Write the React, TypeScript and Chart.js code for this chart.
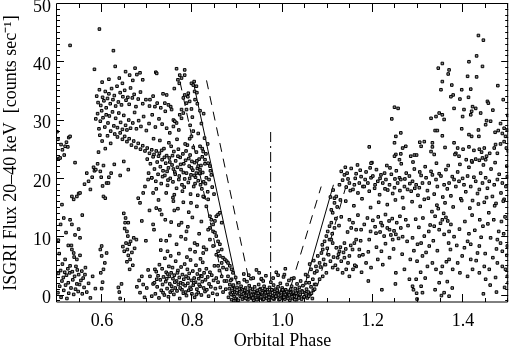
import React, { useEffect, useRef } from 'react';
import { Chart, registerables } from 'chart.js';

Chart.register(...registerables);

type Pt = [number, number];

// ---- axes ----
const xRange: Pt = [0.5, 1.5];
const yRange: Pt = [-1.1, 50];
const xTickValues = [0.6, 0.8, 1.0, 1.2, 1.4];
const yTickValues = [0, 10, 20, 30, 40, 50];
const xTitle = 'Orbital Phase';
const yTitle = 'ISGRI Flux 20\u201340 keV  [counts sec\u207B\u00B9]';

// ---- ISGRI light-curve points (phase, flux) ----
const leftEdgeLow: Pt[] = [
  [0.502,0.5],[0.503,3.8],[0.505,7.2],[0.506,1.6],[0.508,4.3],[0.509,-0.3],[0.511,2.5],[0.512,5.4],[0.514,3.1],[0.515,0.9],
  [0.517,4.0],[0.518,6.2],[0.519,1.8],[0.521,3.5],[0.522,-0.5],[0.524,4.6],[0.525,2.2],[0.526,0.4],[0.528,3.9],[0.529,5.1],
  [0.531,1.3],[0.532,8.6],[0.534,4.1],[0.535,2.7],[0.537,0.2],[0.538,6.6],[0.539,3.3],[0.541,1.1],[0.542,5.0],[0.544,2.0],
  [0.545,4.4],[0.547,0.7],[0.548,3.6],[0.550,1.9],[0.551,6.9],[0.553,2.6],[0.555,4.2],[0.556,0.3],[0.558,3.0],[0.560,1.4],
  [0.563,4.8],[0.566,0.6],[0.570,2.1],[0.574,-0.4],[0.579,3.3],[0.533,7.9],[0.537,7.3],[0.544,6.2],[0.562,3.6],[0.585,1.2],
  [0.596,7.9],[0.599,6.8],[0.603,4.5],[0.597,3.9],[0.601,2.3],[0.599,1.2],[0.606,5.6],[0.610,7.3],[0.599,8.5],
];
const leftEdgeMid: Pt[] = [
  [0.503,9.5],[0.508,12.2],[0.511,15.6],[0.515,13.3],[0.520,10.8],[0.525,8.6],[0.529,13.0],[0.533,12.2],[0.533,17.0],[0.537,16.5],
  [0.540,10.4],[0.544,17.0],[0.548,11.4],[0.548,17.5],[0.551,9.9],[0.551,17.6],[0.556,13.8],[0.561,19.1],[0.570,19.6],[0.574,18.2],
  [0.578,20.3],[0.566,21.0],[0.583,21.4],[0.603,17.0],[0.607,16.7],[0.610,19.3],[0.614,19.3],[0.598,20.3],[0.601,18.8],
];
const leftEdgeHigh: Pt[] = [
  [0.500,28.1],[0.502,26.8],[0.504,23.5],[0.507,23.6],[0.509,25.9],[0.512,25.0],[0.516,24.1],[0.518,25.6],[0.521,26.3],[0.524,25.5],
  [0.526,27.1],[0.529,27.3],[0.529,42.9],[0.540,22.8],[0.594,45.7],[0.625,42.0],
];
const earlyLow: Pt[] = [
  [0.638,0.6],[0.640,-0.5],[0.643,2.0],[0.636,1.4],[0.648,14.1],[0.652,13.3],[0.650,11.5],[0.655,11.0],[0.653,9.0],[0.646,8.4],
  [0.649,7.6],[0.656,7.9],[0.660,8.8],[0.663,9.3],[0.658,6.9],[0.662,6.2],[0.666,7.4],[0.670,9.9],[0.668,5.2],[0.661,4.5],
  [0.655,5.8],[0.672,8.1],[0.676,9.6],[0.651,12.5],[0.657,10.2],[0.658,12.5],[0.684,15.9],[0.680,16.7],[0.715,11.3],[0.713,12.2],
  [0.677,1.5],[0.682,2.6],[0.684,0.5],[0.688,3.3],[0.691,1.9],[0.694,-0.3],[0.699,1.3],[0.702,4.4],[0.706,3.3],[0.710,-0.1],
  [0.713,2.0],[0.717,4.5],[0.721,2.8],[0.688,12.8],[0.697,9.4],[0.705,14.6],
];
const earlyHigh: Pt[] = [
  [0.583,38.8],[0.629,39.3],[0.673,39.0],[0.677,37.9],[0.719,38.3],[0.600,36.6],[0.615,37.1],[0.638,37.3],[0.645,36.4],[0.661,37.8],
  [0.668,36.9],[0.690,37.0],[0.652,38.4],[0.684,38.2],
  [0.588,34.2],[0.591,33.1],[0.594,35.3],[0.597,32.6],[0.601,34.0],[0.604,33.4],[0.607,35.0],[0.609,32.2],[0.612,33.8],[0.615,34.6],
  [0.618,32.9],[0.621,35.5],[0.624,33.6],[0.627,34.3],[0.630,32.5],[0.633,35.9],[0.636,33.2],[0.640,34.8],[0.643,32.7],[0.646,34.1],
  [0.650,35.2],[0.653,33.5],[0.657,34.0],[0.660,32.8],[0.663,35.6],[0.667,33.9],[0.671,34.5],[0.675,32.4],[0.680,33.7],[0.685,34.9],
  [0.690,32.9],[0.697,33.6],[0.705,32.5],[0.713,34.2],[0.722,33.0],[0.730,32.2],
  [0.586,30.3],[0.590,31.2],[0.593,28.6],[0.596,29.9],[0.599,31.7],[0.602,30.5],[0.606,28.9],[0.609,31.0],[0.613,29.6],[0.616,30.8],
  [0.619,28.2],[0.623,31.5],[0.626,29.1],[0.630,30.4],[0.634,28.8],[0.637,31.3],[0.641,29.7],[0.645,28.5],[0.648,30.9],[0.652,29.2],
  [0.655,28.4],[0.659,30.1],[0.663,28.7],[0.668,29.6],[0.672,31.4],[0.676,28.6],[0.681,30.0],[0.686,29.0],[0.692,30.7],[0.698,28.3],
  [0.704,29.5],[0.711,31.0],[0.718,28.9],[0.726,30.3],[0.733,29.4],[0.740,31.6],
  [0.628,27.7],[0.634,27.2],[0.640,27.9],[0.645,26.8],[0.650,27.3],[0.655,26.4],[0.660,26.9],[0.665,25.8],[0.670,26.5],[0.675,25.4],
  [0.680,26.1],[0.685,25.1],[0.690,25.7],[0.695,24.8],[0.700,25.3],[0.705,24.4],[0.710,25.0],[0.715,24.2],[0.720,24.8],[0.725,23.9],
  [0.600,26.5],[0.607,25.2],[0.592,24.6],[0.612,27.4],[0.619,26.1],[0.595,27.5],
  [0.581,22.0],[0.586,21.6],[0.590,22.6],[0.596,21.3],[0.603,22.3],[0.615,20.3],[0.620,21.0],[0.627,22.5],[0.640,20.6],[0.648,23.0],
  [0.658,21.6],[0.695,18.7],[0.691,17.6],[0.702,19.9],[0.710,20.2],[0.713,17.6],
];
const peakMid: Pt[] = [
  [0.700,23.4],[0.703,21.0],[0.707,22.6],[0.710,20.2],[0.713,23.8],[0.716,21.7],[0.719,19.6],[0.722,22.9],[0.724,20.8],[0.727,24.4],
  [0.729,22.1],[0.731,19.2],[0.733,23.3],[0.735,21.4],[0.737,25.2],[0.739,20.6],[0.741,22.7],[0.743,24.0],[0.745,18.9],[0.747,21.9],
  [0.749,23.6],[0.751,20.1],[0.753,25.6],[0.755,22.4],[0.757,19.5],[0.759,24.7],[0.761,21.2],[0.763,23.1],[0.765,18.4],[0.767,22.0],
  [0.769,25.1],[0.771,20.5],[0.773,23.7],[0.775,21.6],[0.777,19.0],[0.779,24.3],[0.781,22.6],[0.783,20.0],[0.785,23.2],[0.787,21.0],
  [0.789,25.8],[0.791,19.4],[0.793,22.2],[0.795,24.1],[0.797,20.7],[0.799,23.0],[0.801,21.5],[0.803,18.7],[0.805,22.8],[0.807,20.3],
  [0.809,24.6],[0.811,21.8],[0.813,19.7],[0.815,23.4],[0.817,20.9],[0.819,22.3],[0.821,18.3],[0.823,21.1],[0.825,19.5],[0.828,22.6],
  [0.831,20.2],[0.834,17.8],[0.837,19.9],[0.840,21.4],
  [0.732,24.9],[0.738,23.7],[0.744,21.3],[0.750,22.9],[0.756,24.0],[0.762,20.8],[0.768,23.9],[0.774,22.5],[0.780,21.1],[0.786,24.8],
  [0.792,23.5],[0.798,21.9],[0.804,20.6],[0.810,23.1],[0.816,21.0],[0.822,23.8],[0.734,20.4],[0.746,19.8],[0.758,21.7],[0.770,19.9],
  [0.782,18.6],[0.794,20.1],[0.806,19.2],[0.818,19.0],[0.728,26.6],[0.748,26.2],[0.766,26.8],[0.784,26.0],[0.802,25.4],[0.714,26.9],
  [0.720,18.3],[0.742,17.6],[0.760,17.3],[0.778,17.9],[0.796,17.4],[0.812,17.2],[0.826,16.9],
];
const peakHigh: Pt[] = [
  [0.743,28.7],[0.758,29.0],[0.765,29.6],[0.758,30.1],[0.772,31.0],[0.776,31.9],[0.787,31.9],[0.787,33.0],[0.780,33.9],[0.790,34.1],
  [0.805,35.0],[0.810,34.8],[0.809,35.9],[0.804,36.7],[0.768,37.0],[0.776,37.3],[0.772,37.8],[0.783,37.8],[0.765,38.9],[0.783,38.7],
  [0.750,27.9],[0.770,28.4],[0.795,29.2],[0.800,30.6],[0.813,27.8],[0.820,29.5],[0.817,31.7],[0.752,32.4],[0.735,34.6],[0.760,35.5],
  [0.794,26.9],[0.827,27.0],[0.825,31.2],[0.822,25.2],[0.830,24.3],[0.834,26.0],[0.811,32.9],[0.798,32.0],
  [0.798,36.4],[0.802,36.1],[0.806,33.6],[0.791,34.7],[0.783,34.4],[0.794,33.3],[0.780,31.3],[0.776,30.4],[0.761,29.9],[0.739,33.0],
  [0.747,32.7],[0.754,31.9],[0.743,34.4],[0.706,33.6],[0.717,32.4],[0.721,38.1],[0.802,28.2],[0.798,27.3],[0.771,36.4],
];
const peakLow: Pt[] = [
  [0.716,2.2],[0.718,0.3],[0.720,4.1],[0.722,1.5],[0.724,3.4],[0.726,-0.4],[0.727,5.3],[0.729,2.7],[0.731,0.9],[0.733,4.6],
  [0.734,1.9],[0.736,3.2],[0.738,0.1],[0.739,6.4],[0.741,2.4],[0.742,4.0],[0.744,1.2],[0.745,3.7],[0.747,-0.2],[0.748,5.0],
  [0.750,2.0],[0.751,0.6],[0.753,3.9],[0.754,1.6],[0.756,4.8],[0.757,2.9],[0.759,0.2],[0.760,3.5],[0.762,1.3],[0.763,5.9],
  [0.765,2.5],[0.766,0.8],[0.768,4.3],[0.769,1.9],[0.771,3.1],[0.772,-0.5],[0.774,2.2],[0.775,4.9],[0.777,1.0],[0.778,3.6],
  [0.780,0.4],[0.781,2.8],[0.783,5.4],[0.784,1.7],[0.786,3.3],[0.787,0.0],[0.789,4.5],[0.790,2.1],[0.792,0.9],[0.793,3.8],
  [0.795,1.4],[0.796,6.1],[0.798,2.6],[0.799,0.3],[0.801,4.2],[0.802,1.8],[0.804,3.0],[0.805,-0.3],[0.807,2.3],[0.808,5.2],
  [0.810,1.1],[0.811,3.7],[0.813,0.5],[0.814,2.9],[0.816,4.4],[0.817,1.6],[0.819,3.4],[0.820,0.1],[0.822,2.4],[0.823,5.7],
  [0.825,1.3],[0.826,3.9],[0.828,0.7],[0.829,2.7],[0.831,4.6],[0.832,1.0],[0.834,3.2],[0.836,-0.1],[0.837,2.0],[0.839,4.0],
  [0.841,1.5],[0.843,3.5],[0.845,0.4],[0.847,2.6],[0.849,5.1],[0.851,1.2],[0.853,3.0],[0.855,0.2],[0.857,2.3],[0.860,4.3],
  [0.862,1.4],[0.865,3.3],[0.868,0.6],[0.871,2.5],[0.874,1.1],
  [0.735,0.5],[0.743,2.9],[0.749,3.3],[0.755,0.9],[0.761,2.3],[0.767,3.9],[0.773,1.3],[0.779,2.0],[0.785,0.6],[0.791,3.0],
  [0.797,1.1],[0.803,2.2],[0.809,0.2],[0.815,1.9],[0.821,3.3],[0.752,6.8],[0.770,7.2],[0.788,6.6],[0.806,7.5],[0.730,7.8],[0.818,6.3],
];
const peakMidSparse: Pt[] = [
  [0.720,15.0],[0.728,14.7],[0.732,13.9],[0.730,9.5],[0.740,13.0],[0.750,10.3],[0.758,16.2],[0.760,14.6],[0.765,8.8],[0.770,12.1],
  [0.776,12.5],[0.780,16.0],[0.785,9.7],[0.787,11.0],[0.790,11.8],[0.800,13.4],[0.805,9.0],[0.810,15.3],[0.815,10.6],[0.820,12.7],
  [0.825,8.3],[0.745,7.6],[0.795,7.9],[0.725,16.4],[0.757,16.8],[0.775,10.1],[0.797,15.9],[0.742,9.4],[0.811,8.7],[0.753,12.6],
  [0.768,14.9],[0.792,14.3],
];
const ingress: Pt[] = [
  [0.817,25.6],[0.824,24.7],[0.828,23.3],[0.813,22.2],[0.817,21.6],[0.809,21.0],[0.835,22.7],[0.839,22.2],[0.842,20.7],
  [0.824,17.0],[0.831,15.3],[0.835,16.5],[0.839,13.6],[0.842,13.0],[0.846,12.2],[0.850,12.8],[0.839,11.6],[0.835,11.3],[0.846,11.0],
  [0.853,13.6],[0.857,13.9],[0.861,14.2],[0.865,12.5],[0.850,10.8],[0.853,10.2],[0.857,9.3],[0.861,8.8],[0.865,7.9],[0.857,7.6],
  [0.853,7.0],[0.861,6.8],[0.868,6.5],[0.872,6.2],[0.876,5.9],[0.879,5.6],[0.865,5.6],[0.857,5.1],[0.868,4.8],[0.876,4.5],
  [0.883,5.1],[0.887,4.5],[0.890,3.9],[0.879,3.3],[0.887,2.8],[0.876,2.5],[0.883,1.9],[0.890,1.6],[0.894,1.1],[0.839,9.6],
  [0.846,8.5],[0.831,7.9],[0.824,7.3],[0.848,17.4],[0.844,18.6],[0.829,19.2],
];
const eclipse: Pt[] = [
  [0.880,-0.3],[0.882,1.2],[0.884,0.4],[0.885,2.6],[0.887,-0.7],[0.888,0.9],[0.890,0.1],[0.891,1.8],[0.893,-0.2],[0.894,0.6],
  [0.896,3.1],[0.897,-0.5],[0.899,1.4],[0.900,0.3],[0.902,-0.8],[0.903,2.2],[0.905,0.8],[0.906,-0.1],[0.908,1.6],[0.909,0.2],
  [0.911,-0.6],[0.912,1.0],[0.914,3.7],[0.915,0.5],[0.917,-0.4],[0.918,1.3],[0.920,0.0],[0.921,2.4],[0.923,-0.7],[0.924,0.7],
  [0.926,1.7],[0.927,-0.2],[0.929,0.4],[0.930,2.9],[0.932,-0.5],[0.933,1.1],[0.935,0.2],[0.936,-0.8],[0.938,1.5],[0.939,0.6],
  [0.941,-0.3],[0.942,4.4],[0.944,0.9],[0.945,-0.6],[0.947,1.9],[0.948,0.1],[0.950,-0.4],[0.951,1.2],[0.953,2.8],[0.954,0.3],
  [0.956,-0.7],[0.957,0.8],[0.959,1.6],[0.960,-0.1],[0.962,0.5],[0.963,3.4],[0.965,-0.5],[0.966,1.0],[0.968,0.2],[0.969,-0.8],
  [0.971,1.4],[0.972,0.6],[0.974,2.3],[0.975,-0.3],[0.977,0.9],[0.978,0.0],[0.980,1.8],[0.981,-0.6],[0.983,0.4],[0.984,1.1],
  [0.986,4.0],[0.987,-0.2],[0.989,0.7],[0.990,1.5],[0.992,-0.7],[0.993,0.3],[0.995,2.1],[0.996,-0.4],[0.998,0.8],[0.999,1.3],
  [1.001,-0.1],[1.002,3.2],[1.004,0.5],[1.005,-0.6],[1.007,1.0],[1.008,0.1],[1.010,1.9],[1.011,-0.3],[1.013,0.6],[1.014,2.6],
  [1.016,-0.8],[1.017,0.9],[1.019,0.2],[1.020,1.6],[1.022,-0.5],[1.023,0.4],[1.025,3.0],[1.026,-0.1],[1.028,1.2],[1.029,0.3],
  [1.031,-0.7],[1.032,2.0],[1.034,0.7],[1.035,-0.2],[1.037,1.4],[1.038,0.0],[1.040,2.5],[1.042,-0.6],[1.043,0.8],[1.045,1.7],
  [1.047,-0.3],[1.049,0.5],[1.051,3.6],[1.053,1.1],[1.055,-0.4],[1.057,0.6],[1.059,2.2],[1.061,0.2],[1.063,1.5],[1.066,-0.5],
  [1.068,0.9],[1.071,1.9],
  [0.886,0.2],[0.892,-0.9],[0.898,0.5],[0.904,1.1],[0.910,-0.2],[0.913,0.3],[0.916,0.9],[0.919,-0.5],[0.922,0.6],[0.925,-0.1],
  [0.928,1.2],[0.931,0.1],[0.934,-0.4],[0.937,0.7],[0.940,0.0],[0.943,-0.7],[0.946,0.4],[0.949,1.0],[0.952,-0.2],[0.955,0.5],
  [0.958,-0.6],[0.961,1.1],[0.964,0.0],[0.967,0.6],[0.970,-0.3],[0.973,0.2],[0.976,1.0],[0.979,-0.5],[0.982,0.3],[0.985,-0.1],
  [0.988,0.9],[0.991,0.1],[0.994,-0.6],[0.997,0.5],[1.000,1.0],[1.003,-0.3],[1.006,0.2],[1.009,0.7],[1.012,-0.5],[1.015,0.1],
  [1.018,1.1],[1.021,-0.2],[1.024,0.6],[1.027,-0.7],[1.030,0.4],[1.033,0.9],[1.036,-0.4],[1.039,0.2],[1.044,0.6],[1.048,-0.2],
  [1.052,0.3],[1.058,-0.1],[1.064,0.4],
  [0.935,3.0],[0.948,3.9],[0.957,2.5],[0.990,3.5],[1.006,4.6],[0.915,2.7],[0.925,3.5],[0.979,3.0],[1.020,2.9],[0.953,2.9],[1.004,3.6],
];
const egress: Pt[] = [
  [1.052,2.2],[1.056,3.3],[1.063,4.5],[1.071,3.9],[1.074,5.0],[1.067,2.8],[1.082,5.6],[1.078,6.8],[1.086,7.3],[1.089,7.9],
  [1.093,9.3],[1.097,10.2],[1.100,11.0],[1.104,11.9],[1.108,12.5],[1.111,14.2],[1.115,15.9],[1.108,14.7],[1.115,16.7],[1.119,17.0],
  [1.104,9.6],[1.111,9.0],[1.119,8.2],[1.126,7.6],[1.122,6.5],[1.130,5.9],[1.137,6.5],[1.145,5.6],[1.148,6.8],[1.141,4.5],
  [1.133,3.9],[1.148,3.3],[1.156,4.5],[1.163,5.0],[1.122,4.5],[1.111,4.8],[1.097,3.9],[1.089,3.3],[1.082,2.8],[1.074,1.9],
  [1.071,1.1],[1.152,11.6],[1.156,12.5],[1.159,9.0],[1.163,9.6],[1.170,7.9],[1.174,11.3],
  [1.069,6.0],[1.076,4.2],[1.084,4.9],[1.091,6.2],[1.095,5.3],[1.102,7.0],[1.106,5.9],[1.113,6.6],[1.117,5.2],[1.124,7.1],
  [1.128,8.3],[1.135,7.4],[1.140,8.0],[1.060,5.4],[1.088,8.7],[1.099,8.1],[1.110,10.6],[1.118,13.2],[1.125,12.0],[1.121,15.2],
  [1.128,16.4],[1.112,18.1],[1.106,16.9],
];
const lateBand: Pt[] = [
  [1.126,19.0],[1.130,21.3],[1.137,20.7],[1.141,18.6],[1.145,20.0],[1.148,19.3],[1.152,21.8],[1.156,18.2],[1.159,19.0],[1.163,20.9],
  [1.167,17.6],[1.170,19.3],[1.174,20.4],[1.178,18.7],[1.181,18.7],[1.185,21.2],[1.189,19.3],[1.192,17.9],[1.196,20.2],[1.200,20.5],
  [1.204,18.4],[1.208,21.6],[1.211,19.6],[1.215,17.3],[1.218,20.7],[1.222,19.3],[1.226,21.0],[1.229,19.9],[1.233,18.1],[1.237,19.0],
  [1.241,20.8],[1.244,17.5],[1.248,18.5],[1.252,21.4],[1.255,19.3],[1.259,20.2],[1.262,19.9],[1.266,16.8],[1.270,18.7],[1.274,21.0],
  [1.277,18.2],[1.281,20.5],[1.285,17.9],[1.288,19.6],[1.292,21.7],[1.296,19.0],[1.300,17.2],[1.303,18.5],[1.307,20.6],[1.310,19.3],
  [1.314,16.5],[1.318,20.2],[1.321,18.0],[1.325,19.3],[1.329,21.3],[1.332,20.7],[1.336,17.4],[1.340,19.9],[1.343,18.7],[1.347,20.9],
  [1.351,20.5],[1.355,16.9],[1.358,19.0],[1.362,21.6],[1.365,18.3],[1.369,19.3],[1.373,17.1],[1.376,20.4],[1.380,19.9],[1.384,18.7],
  [1.388,21.2],[1.391,19.6],[1.395,16.6],[1.399,20.1],[1.402,19.0],[1.406,17.8],[1.410,20.5],[1.413,22.0],[1.417,18.7],[1.421,16.3],
  [1.424,20.3],[1.428,19.6],[1.432,17.5],[1.436,18.2],[1.439,21.0],[1.443,19.3],[1.447,16.0],[1.450,20.2],[1.454,18.4],[1.458,19.6],
  [1.462,21.7],[1.465,17.0],[1.469,19.0],[1.473,15.8],[1.476,19.9],[1.480,20.8],[1.484,17.6],[1.487,19.3],[1.491,16.5],[1.495,18.7],
  [1.498,20.4],
  [1.133,19.8],[1.143,21.0],[1.150,18.0],[1.161,20.1],[1.172,21.5],[1.183,19.9],[1.194,21.9],[1.205,19.0],[1.216,20.1],[1.227,18.3],
  [1.238,21.9],[1.249,20.0],[1.260,18.0],[1.271,20.0],[1.282,19.2],[1.293,18.4],[1.304,21.2],[1.139,22.0],[1.166,22.4],[1.198,22.8],
  [1.231,22.3],[1.263,22.6],[1.289,22.9],[1.316,22.1],[1.341,22.7],[1.367,22.3],[1.393,22.5],[1.420,22.9],[1.445,22.4],[1.471,22.8],
  [1.497,22.2],
  [1.140,16.2],[1.158,15.4],[1.176,16.6],[1.195,15.1],[1.213,16.0],[1.232,15.6],[1.250,16.4],[1.268,15.0],[1.287,16.1],[1.305,15.3],
  [1.323,16.7],[1.342,15.5],[1.360,15.9],[1.378,15.2],[1.397,16.3],[1.415,15.0],[1.434,15.7],[1.452,16.8],[1.470,15.4],[1.489,16.2],
];
const lateMid: Pt[] = [
  [1.115,11.6],[1.108,9.6],[1.148,13.0],[1.163,11.3],[1.181,12.2],[1.192,9.6],[1.207,10.7],[1.218,12.5],[1.225,10.2],[1.237,11.3],
  [1.244,9.6],[1.251,10.5],[1.262,11.6],[1.273,13.0],[1.288,9.9],[1.299,8.8],[1.307,9.0],[1.314,10.2],[1.325,8.5],[1.336,11.9],
  [1.347,11.3],[1.354,13.0],[1.366,12.8],[1.373,12.2],[1.369,11.0],[1.410,9.3],[1.417,8.8],[1.436,8.5],[1.432,7.3],[1.476,9.6],
  [1.483,9.0],[1.487,7.6],[1.498,8.5],
  [1.155,7.9],[1.170,6.8],[1.185,5.6],[1.196,4.8],[1.211,6.2],[1.222,5.3],[1.237,6.5],[1.251,3.9],[1.270,4.5],[1.281,2.8],
  [1.288,1.6],[1.296,2.8],[1.310,6.8],[1.321,5.0],[1.332,5.6],[1.340,4.5],[1.351,3.9],[1.354,5.0],[1.369,6.2],[1.377,4.5],
  [1.388,5.6],[1.410,3.3],[1.417,6.2],[1.436,3.9],[1.447,5.0],[1.450,2.8],[1.458,4.5],[1.472,3.1],[1.476,5.6],[1.487,5.0],
  [1.494,4.5],[1.498,3.3],
  [1.200,12.9],[1.205,11.8],[1.212,13.5],[1.216,10.9],[1.221,12.0],[1.228,13.9],[1.232,11.6],[1.236,12.8],[1.240,10.4],[1.243,13.2],
  [1.247,11.1],[1.253,12.5],[1.257,9.8],[1.260,13.6],[1.228,8.9],[1.219,7.6],[1.246,8.0],[1.265,7.1],[1.276,9.3],[1.283,6.2],
  [1.291,7.7],[1.298,5.9],[1.302,11.7],[1.311,13.3],[1.318,7.4],[1.327,12.1],[1.331,14.4],[1.338,13.6],[1.345,14.9],[1.350,12.4],
  [1.357,14.1],[1.362,13.4],[1.368,9.0],[1.372,7.9],[1.380,10.1],[1.386,8.6],[1.392,11.4],[1.398,6.8],[1.404,12.7],[1.413,10.6],
  [1.420,13.8],[1.426,11.2],[1.440,10.0],[1.444,11.9],[1.449,7.2],[1.455,12.3],[1.461,9.9],[1.466,6.5],[1.479,11.0],[1.485,12.7],
  [1.490,10.6],[1.493,13.5],[1.497,6.9],[1.130,13.5],[1.137,9.0],[1.144,10.9],[1.151,8.6],[1.167,13.8],[1.173,9.4],[1.178,7.0],
  [1.188,13.3],[1.195,11.0],[1.160,5.2],[1.175,4.0],[1.190,7.5],[1.208,8.3],[1.266,10.1],[1.278,12.0],[1.295,13.1],[1.306,4.0],
  [1.316,3.0],[1.324,11.0],[1.334,9.4],[1.343,7.7],[1.358,10.5],[1.363,5.8],[1.393,3.9],[1.403,8.2],[1.421,4.5],[1.429,6.0],
  [1.437,13.0],[1.457,14.2],[1.468,13.0],[1.474,8.0],
];
const lateLow: Pt[] = [
  [1.297,0.4],[1.338,1.0],[1.347,2.2],[1.352,0.0],[1.365,2.4],[1.376,1.3],[1.298,-0.6],[1.290,1.0],[1.460,1.8],[1.474,0.6],
  [1.492,1.4],[1.500,2.2],[1.445,0.3],[1.190,2.5],[1.250,2.0],[1.220,1.0],[1.307,1.6],[1.310,0.5],[1.358,0.5],[1.369,-0.1],
];
const lateHigh: Pt[] = [
  [1.434,44.6],[1.445,43.8],[1.354,39.8],[1.345,39.0],[1.369,38.7],[1.367,38.0],[1.430,41.1],[1.413,40.1],[1.443,39.3],[1.410,37.6],
  [1.354,36.7],[1.375,36.1],[1.351,35.3],[1.430,37.5],[1.417,35.4],[1.397,35.3],[1.378,34.4],[1.373,34.1],[1.393,33.7],[1.412,34.0],
  [1.454,33.3],[1.456,33.0],[1.248,32.3],[1.256,32.1],[1.242,30.3],[1.380,32.1],[1.402,31.9],[1.421,32.4],[1.428,32.1],[1.419,31.6],
  [1.347,31.3],[1.354,31.0],[1.358,30.2],[1.329,30.4],[1.340,30.7],[1.399,30.7],[1.417,31.0],[1.439,31.3],[1.452,30.0],[1.461,29.9],
  [1.483,29.5],[1.491,28.7],[1.450,29.3],[1.262,27.9],[1.251,27.3],[1.248,26.2],[1.338,28.3],[1.343,28.3],[1.354,27.4],[1.397,28.6],
  [1.413,27.6],[1.419,27.3],[1.434,28.4],[1.435,27.3],[1.471,28.0],[1.478,28.3],[1.487,27.8],[1.192,25.5],[1.304,26.3],[1.307,25.6],
  [1.314,26.4],[1.332,26.2],[1.332,25.5],[1.273,25.6],[1.251,24.2],[1.262,24.3],[1.266,25.3],[1.292,24.1],[1.297,24.1],[1.284,23.9],
  [1.336,24.2],[1.329,24.7],[1.360,25.4],[1.380,26.2],[1.388,25.3],[1.384,24.4],[1.391,23.9],[1.382,24.2],[1.400,25.1],[1.413,25.5],
  [1.424,24.9],[1.436,25.1],[1.441,24.6],[1.447,25.3],[1.452,23.9],[1.459,24.4],[1.469,25.3],[1.472,25.9],[1.476,24.4],[1.483,26.0],
  [1.491,26.4],[1.494,27.3],[1.496,25.3],[1.407,23.3],[1.419,23.1],[1.428,23.4],[1.436,23.2],[1.443,23.6],[1.450,23.3],[1.248,23.9],
  [1.259,23.3],[1.196,22.7],[1.466,31.8],[1.489,33.6],[1.499,30.9],[1.477,36.0],[1.500,24.8],[1.498,28.4],
];

// ---- eclipse model lines ----
const ingressFit: Pt[] = [[0.8018, 36.7], [0.899, 1.8]];
const ingressEarly: Pt[] = [[0.7725, 36.7], [0.8696, 1.8]];
const ingressLate: Pt[] = [[0.8314, 36.9], [0.927, 2.1]];
const egressFit: Pt[] = [[1.0486, 1.6], [1.1127, 19.0]];
const egressEarly: Pt[] = [[1.0192, 1.8], [1.0855, 18.7]];
const egressLate: Pt[] = [[1.077, 1.6], [1.1414, 19.0]];
const eclipseCentre: Pt[] = [[0.9735, -1.1], [0.9735, 28.1]];

const allPoints: Pt[] = [
  ...leftEdgeLow, ...leftEdgeMid, ...leftEdgeHigh, ...earlyLow, ...earlyHigh,
  ...peakMid, ...peakHigh, ...peakLow, ...peakMidSparse, ...ingress, ...eclipse,
  ...egress, ...lateBand, ...lateMid, ...lateLow, ...lateHigh,
];

const SERIF = "'Liberation Serif', 'Times New Roman', Times, serif";

const frameTicks = {
  id: 'frameTicks',
  afterDatasetsDraw(chart: any) {
    const { ctx, chartArea, scales } = chart;
    const { left, right, top, bottom } = chartArea;
    const sx = scales.x;
    const sy = scales.y;
    ctx.save();
    ctx.strokeStyle = '#000';
    ctx.lineWidth = 1;
    ctx.setLineDash([]);
    ctx.beginPath();
    ctx.rect(left - 0.5, top - 0.5, right - left, bottom - top + 0.5);
    ctx.stroke();
    ctx.beginPath();
    for (let i = 0; i <= 20; i++) {
      const v = xRange[0] + i * 0.05;
      const major = xTickValues.some((t) => Math.abs(t - v) < 1e-6);
      const len = major ? 8 : 4;
      const px = Math.round(sx.getPixelForValue(v)) - 0.5;
      ctx.moveTo(px, bottom);
      ctx.lineTo(px, bottom - len);
      ctx.moveTo(px, top);
      ctx.lineTo(px, top + len);
    }
    for (let v = -1; v <= 50; v++) {
      const major = v % 10 === 0;
      const len = major ? 7 : 3;
      const py = Math.round(sy.getPixelForValue(v)) - 0.5;
      ctx.moveTo(left, py);
      ctx.lineTo(left + len, py);
      ctx.moveTo(right, py);
      ctx.lineTo(right - len, py);
    }
    ctx.stroke();
    ctx.restore();
  },
};

const toXY = (arr: Pt[]) => arr.map(([x, y]) => ({ x, y }));

const lineSet = (arr: Pt[], dash: number[]) => ({
  data: toXY(arr),
  showLine: true,
  borderColor: '#000',
  borderWidth: 1,
  borderDash: dash,
  pointRadius: 0,
  pointHoverRadius: 0,
  fill: false,
});

export default function App() {
  const ref = useRef<HTMLCanvasElement>(null);
  useEffect(() => {
    document.body.style.margin = '0';
    const chart = new Chart(ref.current as HTMLCanvasElement, {
      type: 'scatter',
      data: {
        datasets: [
          {
            data: toXY(allPoints),
            pointStyle: 'rect',
            pointRadius: 1.8,
            pointHoverRadius: 1.8,
            backgroundColor: '#8c8c8c',
            borderColor: '#000',
            borderWidth: 1,
          } as any,
          lineSet(ingressFit, []),
          lineSet(ingressEarly, [9, 7]),
          lineSet(ingressLate, [9, 7]),
          lineSet(egressFit, []),
          lineSet(egressEarly, [9, 7]),
          lineSet(egressLate, [9, 7]),
          lineSet(eclipseCentre, [10, 4, 2, 4]),
        ],
      },
      options: {
        animation: false,
        responsive: false,
        events: [],
        layout: { padding: { top: 4, right: 2, left: 0, bottom: 0 } },
        plugins: { legend: { display: false }, tooltip: { enabled: false } },
        scales: {
          x: {
            type: 'linear',
            min: xRange[0],
            max: xRange[1],
            afterBuildTicks: (s: any) => { s.ticks = xTickValues.map((v) => ({ value: v })); },
            afterFit: (s: any) => { s.height = 46; s.paddingLeft = 0; s.paddingRight = 0; },
            grid: { display: false, drawTicks: false },
            border: { display: false },
            ticks: {
              padding: 8,
              color: '#000',
              autoSkip: false,
              maxRotation: 0,
              font: { family: SERIF, size: 18 },
              callback: (v: any) => Number(v).toFixed(1),
            },
            title: {
              display: true,
              text: xTitle,
              color: '#000',
              font: { family: SERIF, size: 18, lineHeight: 0.8 },
              padding: 0,
            },
          },
          y: {
            type: 'linear',
            min: yRange[0],
            max: yRange[1],
            afterBuildTicks: (s: any) => { s.ticks = yTickValues.map((v) => ({ value: v })); },
            afterFit: (s: any) => { s.width = 57; s.paddingTop = 0; s.paddingBottom = 0; },
            grid: { display: false, drawTicks: false },
            border: { display: false },
            ticks: {
              padding: 6,
              labelOffset: 3,
              color: '#000',
              autoSkip: false,
              font: { family: SERIF, size: 18 },
              callback: (v: any) => String(v),
            },
            title: {
              display: true,
              text: yTitle,
              color: '#000',
              font: { family: SERIF, size: 18 },
              padding: 0,
            },
          },
        },
      } as any,
      plugins: [frameTicks],
    });
    return () => chart.destroy();
  }, []);
  return (
    <div style={{ width: 511, height: 348 }}>
      <canvas ref={ref} width={511} height={348} style={{ display: 'block' }} />
    </div>
  );
}
